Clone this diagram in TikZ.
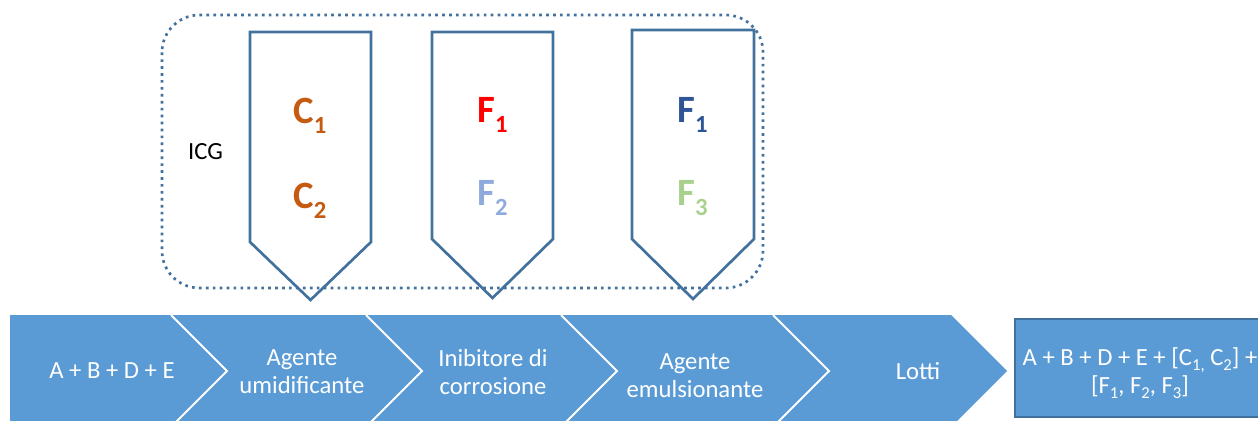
\documentclass[tikz,border=0pt]{standalone}
\usepackage{fontspec}
\setmainfont{Carlito}
\definecolor{cfill}{HTML}{5B9BD5}
\definecolor{cline}{HTML}{41719C}
\definecolor{corange}{HTML}{C55A11}
\definecolor{cred}{HTML}{FF0000}
\definecolor{clblue}{HTML}{8FAADC}
\definecolor{cdblue}{HTML}{2F5597}
\definecolor{cgreen}{HTML}{A9D18E}
\newcommand\bigsub[2]{#1\raisebox{-7.5pt}{\fontsize{18.5}{18.5}\selectfont #2}}
\newcommand\smsub[1]{\raisebox{-3.5pt}{\fontsize{12.5}{12.5}\selectfont #1}}
\begin{document}
\begin{tikzpicture}[x=0.75pt,y=-0.75pt,
  chev/.style={fill=cfill},
  sep/.style={draw=white,line width=1.5pt},
  pent/.style={draw=cline,line width=2pt,line join=miter},
  dotbox/.style={draw=cline,line width=2pt,dash pattern=on 2pt off 3.2pt,rounded corners=28pt},
  label/.style={text=white,font=\fontsize{18.5}{21}\selectfont,align=center,inner sep=0pt},
  bigl/.style={font=\bfseries\fontsize{29}{29}\selectfont,inner sep=0pt,anchor=base}]
\useasboundingbox (0,0) rectangle (1258,421);
\clip (0,0) rectangle (1258,421);
% dotted group box
\draw[dotbox] (162,15) rectangle (763,288);
% pentagons
\draw[pent] (250,32) -- (371,32) -- (371,242) -- (310.5,300) -- (250,242) -- cycle;
\draw[pent] (432,32) -- (553,32) -- (553,239) -- (492.5,298) -- (432,239) -- cycle;
\draw[pent] (632,30) -- (754,30) -- (754,239) -- (693,299) -- (632,239) -- cycle;
\node[label,text=black] (icg) at (205.5,151.5) {ICG};
\node[bigl,text=corange] (c1) at (310,123) {\bigsub{C}{1}};
\node[bigl,text=corange] (c2) at (310,208) {\bigsub{C}{2}};
\node[bigl,text=cred] (f1a) at (492.5,122) {\bigsub{F}{1}};
\node[bigl,text=clblue] (f2) at (492.5,205) {\bigsub{F}{2}};
\node[bigl,text=cdblue] (f1b) at (692.5,122) {\bigsub{F}{1}};
\node[bigl,text=cgreen] (f3) at (692.5,205) {\bigsub{F}{3}};
% chevrons
\fill[chev] (10,315) -- (171,315) -- (227,371) -- (171,427) -- (10,427) -- cycle;
\fill[chev] (171,315) -- (366,315) -- (422,371) -- (366,427) -- (171,427) -- (227,371) -- cycle;
\fill[chev] (366,315) -- (561,315) -- (617,371) -- (561,427) -- (366,427) -- (422,371) -- cycle;
\fill[chev] (561,315) -- (773,315) -- (829,371) -- (773,427) -- (561,427) -- (617,371) -- cycle;
\fill[chev] (773,315) -- (951,315) -- (1007,371) -- (951,427) -- (773,427) -- (829,371) -- cycle;
\draw[sep] (171,315) -- (227,371) -- (171,427);
\draw[sep] (366,315) -- (422,371) -- (366,427);
\draw[sep] (561,315) -- (617,371) -- (561,427);
\draw[sep] (773,315) -- (829,371) -- (773,427);
\node[label] (t1) at (112,371) {A + B + D + E};
\node[label] (t2) at (302,372) {Agente\\umidificante};
\node[label] (t3) at (493,372) {Inibitore di\\corrosione};
\node[label] (t4) at (695,376) {Agente\\emulsionante};
\node[label] (t5) at (918,371) {Lotti};
% result box
\draw[fill=cfill,draw=cline,line width=1.5pt] (1015,319) rectangle (1275,417);
\node[label] (res) at (1140,373) {A + B + D + E + [C\smsub{1,} C\smsub{2}] +\\{}[F\smsub{1}, F\smsub{2}, F\smsub{3}]};
\end{tikzpicture}
\end{document}
